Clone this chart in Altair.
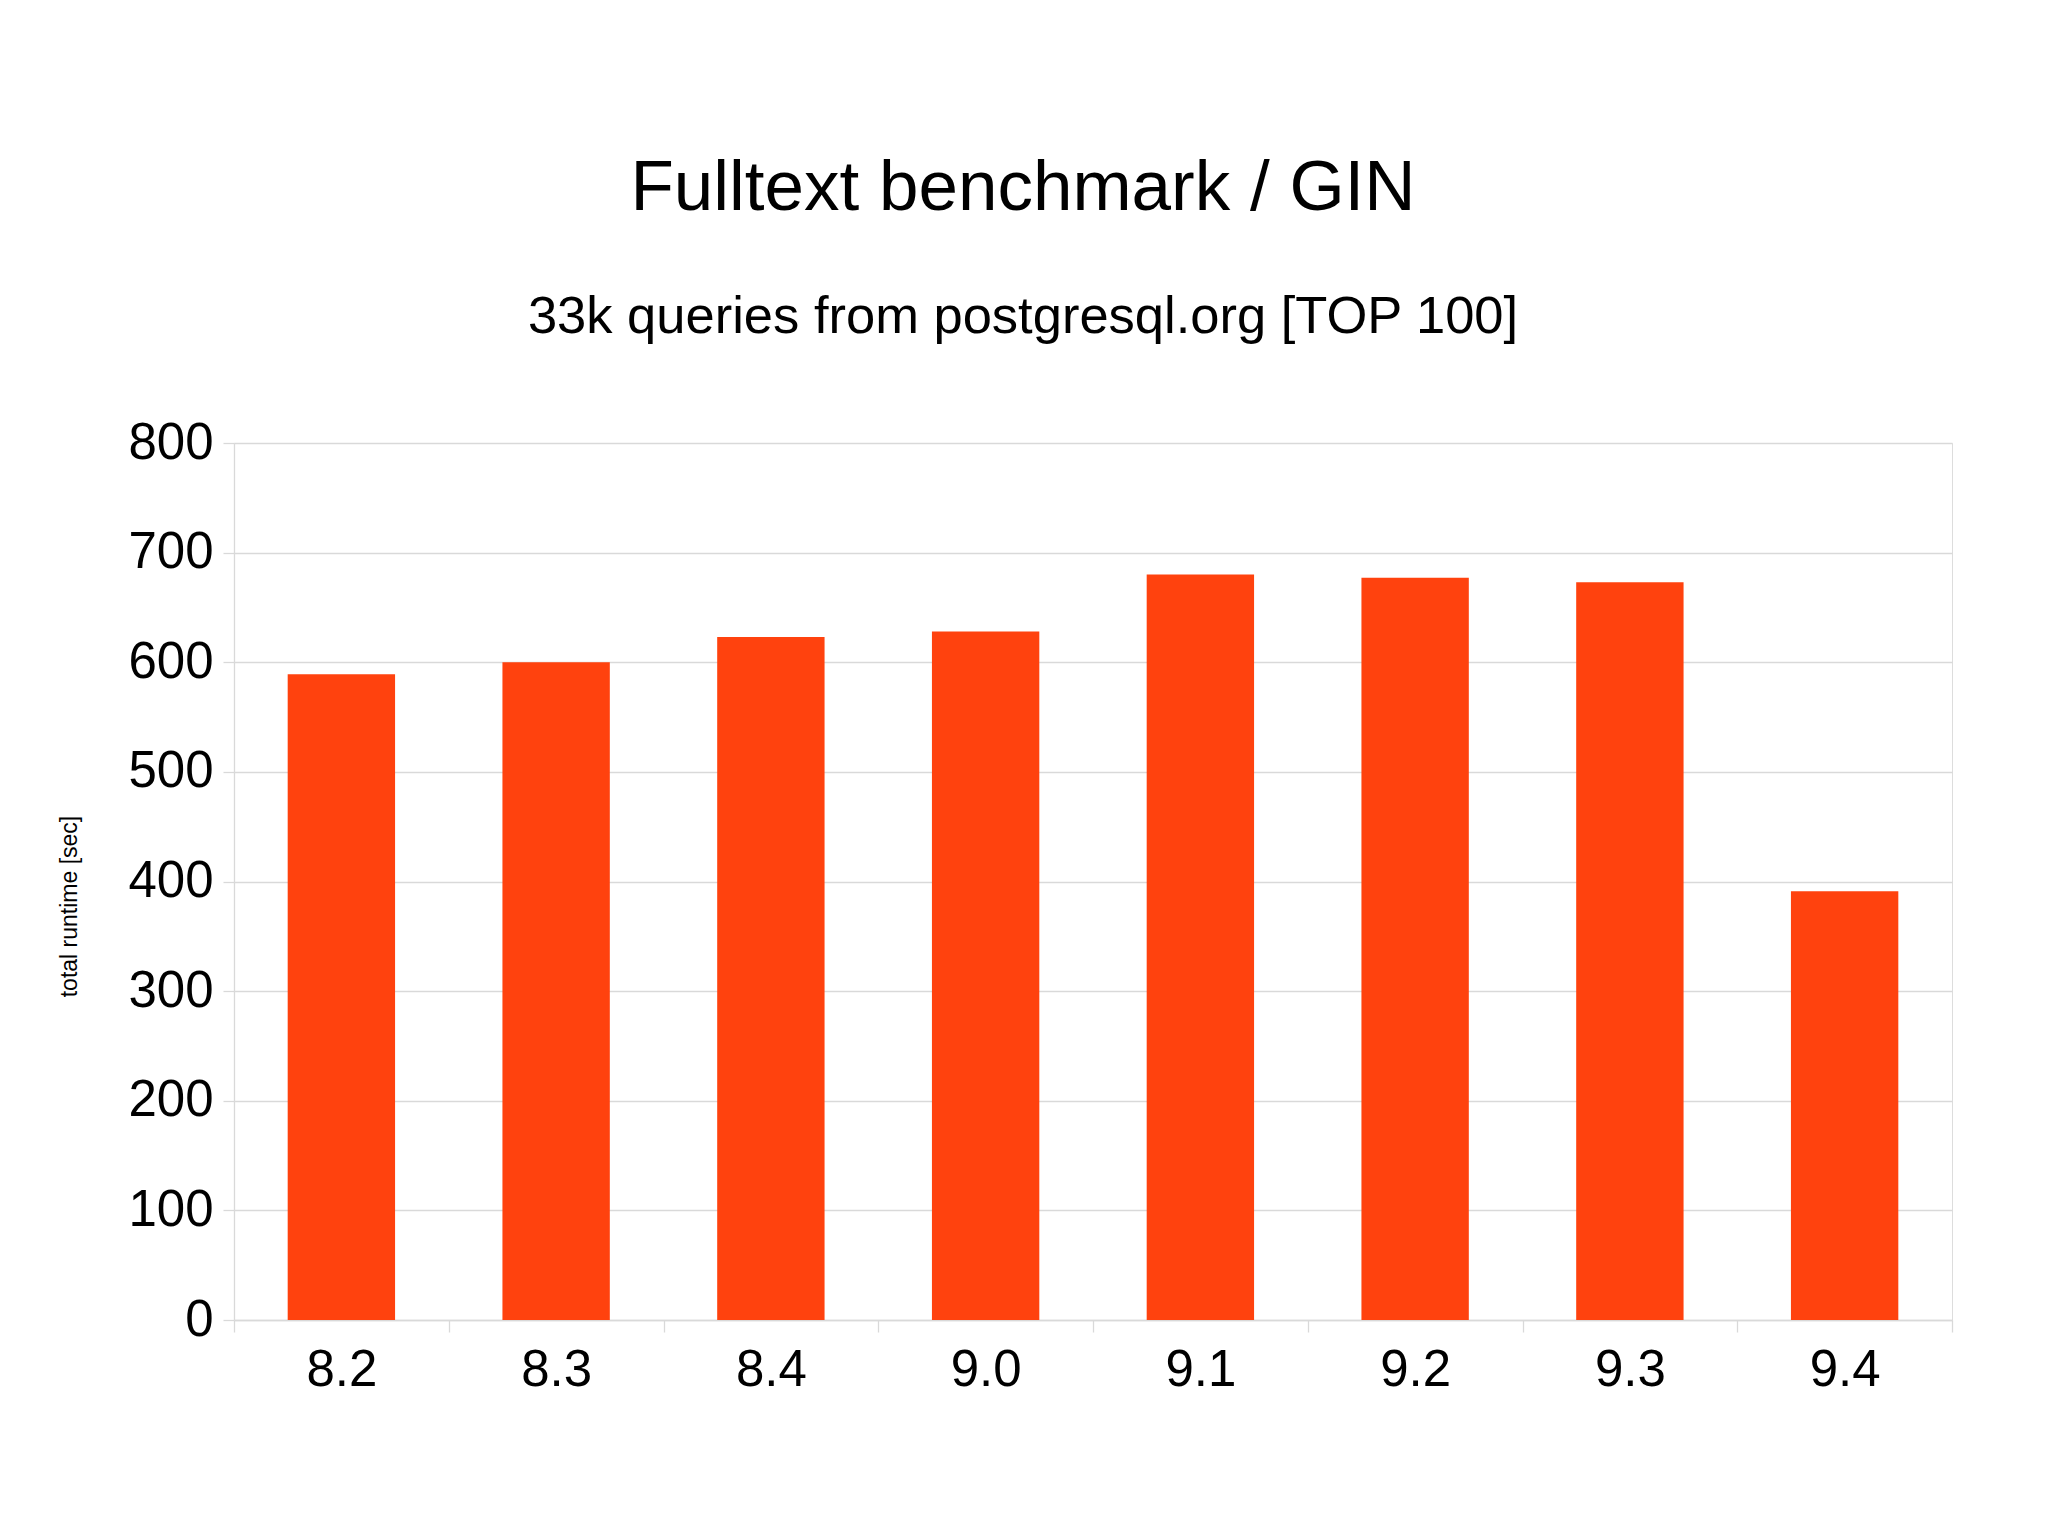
import altair as alt
import pandas as pd

versions = ["8.2", "8.3", "8.4", "9.0", "9.1", "9.2", "9.3", "9.4"]
runtimes = [589, 600, 623, 628, 680, 677, 673, 391]
y_ticks = [0, 100, 200, 300, 400, 500, 600, 700, 800]

title_text = "Fulltext benchmark / GIN"
subtitle_text = "33k queries from postgresql.org [TOP 100]"
y_title = "total runtime [sec]"

df = pd.DataFrame({"version": versions, "runtime": runtimes})

FONT = "Liberation Sans"
GRID = "#d9d9d9"
BAR = "#ff420e"

W, H = 1718, 877

chart = alt.Chart(df).mark_bar(color=BAR, width=alt.RelativeBandSize(0.5)).encode(
    x=alt.X(
        "version:N",
        sort=versions,
        scale=alt.Scale(paddingInner=0, paddingOuter=0),
        axis=alt.Axis(
            title=None,
            labelAngle=0,
            labelFont=FONT,
            labelFontSize=51,
            labelColor="#000000",
            labelPadding=13,
            tickBand="extent",
            tickSize=12,
            tickColor=GRID,
            tickWidth=1.3,
            domainColor=GRID,
            domainWidth=1.3,
            grid=False,
        ),
    ),
    y=alt.Y(
        "runtime:Q",
        scale=alt.Scale(domain=[0, 800], nice=False),
        axis=alt.Axis(
            values=y_ticks,
            title=y_title,
            titleFont=FONT,
            titleFontSize=23,
            titleFontWeight="normal",
            titleColor="#000000",
            titleAngle=-90,
            titleAlign="center",
            titleBaseline="alphabetic",
            titleX=-158,
            titleY=463,
            labelFont=FONT,
            labelFontSize=51,
            labelColor="#000000",
            labelPadding=10,
            tickSize=11,
            tickColor=GRID,
            tickWidth=1.3,
            domainColor=GRID,
            domainWidth=1.3,
            gridColor=GRID,
            gridWidth=1.3,
        ),
    ),
).properties(
    width=W,
    height=H,
    title=alt.TitleParams(
        text=title_text,
        subtitle=subtitle_text,
        font=FONT,
        fontSize=71,
        fontWeight="normal",
        color="#000000",
        subtitleFont=FONT,
        subtitleFontSize=52.5,
        subtitleColor="#000000",
        subtitlePadding=67,
        anchor="middle",
        dx=-70,
        offset=73,
    ),
    autosize=alt.AutoSizeParams(type="none"),
    padding={"left": 226, "top": 435, "right": 80, "bottom": 180},
).configure_view(
    stroke=GRID,
    strokeWidth=1.3,
).configure(background="#ffffff")

chart.save("out.html", embed_options={"renderer": "svg", "actions": False})
